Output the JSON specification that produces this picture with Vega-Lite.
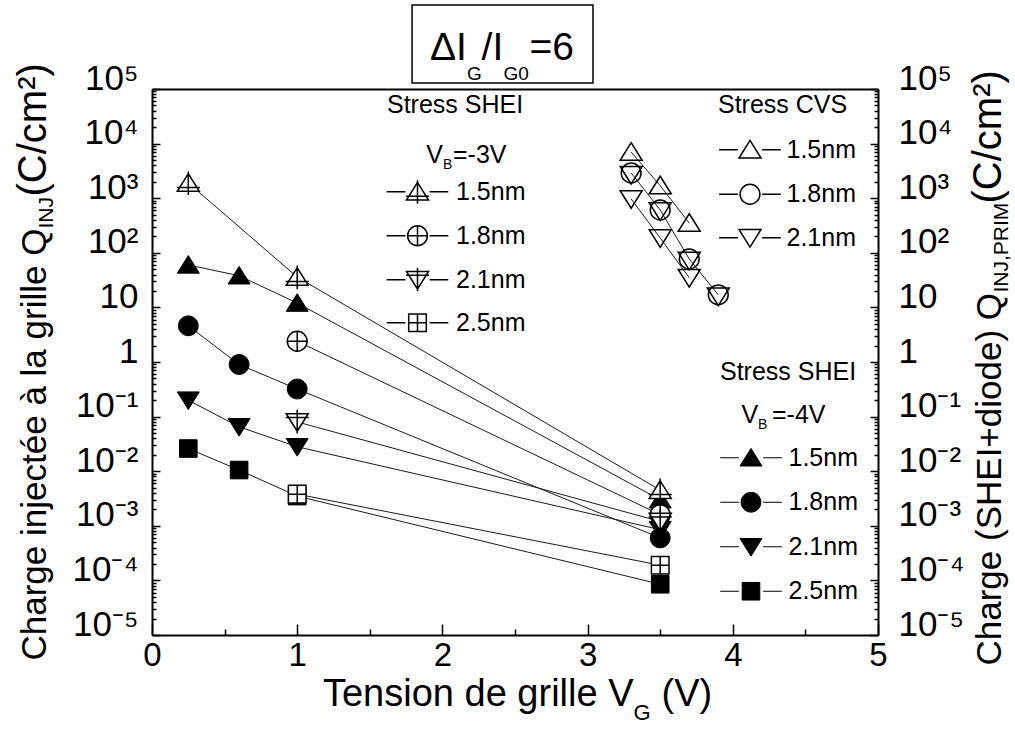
{
  "$schema": "https://vega.github.io/schema/vega-lite/v6.json",
  "width": 726,
  "height": 546,
  "autosize": {"type": "none"},
  "padding": {"left": 152, "top": 89, "right": 137, "bottom": 94},
  "background": "white",
  "config": {
    "view": {"stroke": null},
    "font": "Liberation Sans",
    "axis": {
      "grid": false,
      "domainColor": "black",
      "domainWidth": 2,
      "tickColor": "black",
      "tickWidth": 1.5,
      "labelColor": "black",
      "titleColor": "black",
      "labelFont": "Liberation Sans",
      "titleFont": "Liberation Sans",
      "titleFontWeight": "normal",
      "labelFontSize": 35,
      "titleFontSize": 35,
      "labelFlush": false,
      "labelOverlap": false,
      "labelBound": false,
      "titleLimit": 1000
    }
  },
  "datasets": {
    "pts": [
      {"g": "A", "t": "1.5nm", "x": 0.25, "q": 1900},
      {"g": "A", "t": "1.5nm", "x": 1, "q": 36},
      {"g": "A", "t": "1.5nm", "x": 3.5, "q": 0.0045},
      {"g": "A", "t": "1.8nm", "x": 1, "q": 2.4},
      {"g": "A", "t": "1.8nm", "x": 3.5, "q": 0.0016},
      {"g": "A", "t": "2.1nm", "x": 1, "q": 0.08},
      {"g": "A", "t": "2.1nm", "x": 3.5, "q": 0.0012},
      {"g": "A", "t": "2.5nm", "x": 1, "q": 0.0038},
      {"g": "A", "t": "2.5nm", "x": 3.5, "q": 0.00019},
      {"g": "B", "t": "1.5nm", "x": 0.25, "q": 60},
      {"g": "B", "t": "1.5nm", "x": 0.6, "q": 38},
      {"g": "B", "t": "1.5nm", "x": 1, "q": 12},
      {"g": "B", "t": "1.5nm", "x": 3.5, "q": 0.003},
      {"g": "B", "t": "1.8nm", "x": 0.25, "q": 4.6},
      {"g": "B", "t": "1.8nm", "x": 0.6, "q": 0.9},
      {"g": "B", "t": "1.8nm", "x": 1, "q": 0.32},
      {"g": "B", "t": "1.8nm", "x": 3.5, "q": 0.0006},
      {"g": "B", "t": "2.1nm", "x": 0.25, "q": 0.2},
      {"g": "B", "t": "2.1nm", "x": 0.6, "q": 0.065},
      {"g": "B", "t": "2.1nm", "x": 1, "q": 0.028},
      {"g": "B", "t": "2.1nm", "x": 3.5, "q": 0.00085},
      {"g": "B", "t": "2.5nm", "x": 0.25, "q": 0.026},
      {"g": "B", "t": "2.5nm", "x": 0.6, "q": 0.0105},
      {"g": "B", "t": "2.5nm", "x": 1, "q": 0.0035},
      {"g": "B", "t": "2.5nm", "x": 3.5, "q": 0.000085},
      {"g": "C", "t": "1.5nm", "x": 3.3, "q": 7000},
      {"g": "C", "t": "1.5nm", "x": 3.5, "q": 1700},
      {"g": "C", "t": "1.5nm", "x": 3.7, "q": 350},
      {"g": "C", "t": "1.8nm", "x": 3.3, "q": 2900},
      {"g": "C", "t": "1.8nm", "x": 3.5, "q": 610},
      {"g": "C", "t": "1.8nm", "x": 3.7, "q": 77},
      {"g": "C", "t": "1.8nm", "x": 3.9, "q": 17},
      {"g": "C", "t": "2.1nm", "x": 3.3, "q": 970},
      {"g": "C", "t": "2.1nm", "x": 3.5, "q": 187},
      {"g": "C", "t": "2.1nm", "x": 3.7, "q": 35},
      {"g": "D", "t": "2.1nm", "x": 3.3, "q": 2700},
      {"g": "D", "t": "2.1nm", "x": 3.5, "q": 580},
      {"g": "D", "t": "2.1nm", "x": 3.7, "q": 72},
      {"g": "D", "t": "2.1nm", "x": 3.9, "q": 16}
    ]
  },
  "resolve": {
    "scale": {"shape": "independent"},
    "axis": {"x": "independent", "y": "independent"},
    "legend": {"shape": "independent"}
  },
  "layer": [
    {
      "data": {"name": "pts"},
      "transform": [{"filter": "datum.g != 'D'"}],
      "mark": {"type": "line", "color": "#1a1a1a", "strokeWidth": 1},
      "encoding": {
        "x": {
          "field": "x", "type": "quantitative",
          "scale": {"domain": [0, 5], "nice": false, "zero": false},
          "axis": {
            "orient": "bottom", "values": [0, 1, 2, 3, 4, 5], "tickSize": -11,
            "labelPadding": 15, "labelFontSize": 33, "labelAlign": "center", "labelBaseline": "top",
            "title": "Tension de grille V", "titleFontSize": 38, "titleAngle": 0,
            "titleAlign": "right", "titleBaseline": "alphabetic", "titleX": 481, "titleY": 70
          }
        },
        "y": {
          "field": "q", "type": "quantitative",
          "scale": {"type": "log", "domain": [0.00001, 100000], "nice": false},
          "axis": {
            "orient": "left",
            "values": [0.00001, 0.0001, 0.001, 0.01, 0.1, 1, 10, 100, 1000, 10000, 100000],
            "tickSize": -8, "labelPadding": 22, "labelAlign": "right", "labelBaseline": "alphabetic",
            "labelExpr": "datum.value > 5e4 ? '10⁵' : datum.value > 5e3 ? '10⁴' : datum.value > 500 ? '10³' : datum.value > 50 ? '10²' : datum.value > 5 ? '10' : datum.value > 0.5 ? '1' : datum.value > 0.05 ? '10⁻¹' : datum.value > 0.005 ? '10⁻²' : datum.value > 0.0005 ? '10⁻³' : datum.value > 0.00005 ? '10⁻⁴' : '10⁻⁵'",
            "title": "Charge injectée à la grille Q", "titleAngle": 270, "titleAlign": "left",
            "titleBaseline": "alphabetic", "titleX": -107, "titleY": 571
          }
        },
        "detail": [{"field": "g"}, {"field": "t"}]
      }
    },
    {
      "data": {"name": "pts"},
      "transform": [{"filter": "datum.g == 'B'"}],
      "mark": {"type": "point", "filled": true, "fill": "black", "stroke": "black", "strokeWidth": 1, "size": 484, "opacity": 1},
      "encoding": {
        "x": {
          "field": "x", "type": "quantitative",
          "axis": {
            "orient": "bottom", "values": [0.5, 1.5, 2.5, 3.5, 4.5], "tickSize": -6, "labels": false, "domain": false,
            "title": "G", "titleFontSize": 22, "titleAngle": 0, "titleAlign": "left", "titleBaseline": "alphabetic",
            "titleX": 481, "titleY": 84
          }
        },
        "y": {
          "field": "q", "type": "quantitative",
          "axis": {
            "orient": "left",
            "values": [0.00002, 0.00003, 0.00004, 0.00005, 0.00006, 0.00007, 0.00008, 0.00009,
                       0.0002, 0.0003, 0.0004, 0.0005, 0.0006, 0.0007, 0.0008, 0.0009,
                       0.002, 0.003, 0.004, 0.005, 0.006, 0.007, 0.008, 0.009,
                       0.02, 0.03, 0.04, 0.05, 0.06, 0.07, 0.08, 0.09,
                       0.2, 0.3, 0.4, 0.5, 0.6, 0.7, 0.8, 0.9,
                       2, 3, 4, 5, 6, 7, 8, 9,
                       20, 30, 40, 50, 60, 70, 80, 90,
                       200, 300, 400, 500, 600, 700, 800, 900,
                       2000, 3000, 4000, 5000, 6000, 7000, 8000, 9000,
                       20000, 30000, 40000, 50000, 60000, 70000, 80000, 90000],
            "tickSize": -4, "labels": false, "domain": false,
            "title": "INJ", "titleFontSize": 21, "titleAngle": 270, "titleAlign": "left",
            "titleBaseline": "alphabetic", "titleX": -100, "titleY": 139
          }
        },
        "shape": {
          "field": "t", "type": "nominal",
          "scale": {
            "domain": ["1.5nm", "1.8nm", "2.1nm", "2.5nm"],
            "range": [
              "M0,-0.85L1,0.75L-1,0.75Z",
              "M0.9,0A0.9 0.9 0 1 1 -0.9,0A0.9 0.9 0 1 1 0.9,0Z",
              "M0,0.85L1,-0.75L-1,-0.75Z",
              "M-0.8,-0.8L0.8,-0.8L0.8,0.8L-0.8,0.8Z"
            ]
          },
          "legend": null
        }
      }
    },
    {
      "data": {"name": "pts"},
      "transform": [{"filter": "datum.g == 'A'"}],
      "mark": {"type": "point", "filled": true, "fill": "white", "stroke": "black", "strokeWidth": 1.5, "size": 484, "opacity": 1},
      "encoding": {
        "x": {
          "field": "x", "type": "quantitative",
          "axis": {"orient": "top", "ticks": false, "labels": false, "domain": true, "title": null}
        },
        "y": {
          "field": "q", "type": "quantitative",
          "axis": {
            "orient": "right",
            "values": [0.00001, 0.0001, 0.001, 0.01, 0.1, 1, 10, 100, 1000, 10000, 100000],
            "tickSize": -8, "labelPadding": 28, "labelAlign": "left", "labelBaseline": "alphabetic",
            "labelExpr": "datum.value > 5e4 ? '10⁵' : datum.value > 5e3 ? '10⁴' : datum.value > 500 ? '10³' : datum.value > 50 ? '10²' : datum.value > 5 ? '10' : datum.value > 0.5 ? '1' : datum.value > 0.05 ? '10⁻¹' : datum.value > 0.005 ? '10⁻²' : datum.value > 0.0005 ? '10⁻³' : datum.value > 0.00005 ? '10⁻⁴' : '10⁻⁵'",
            "title": "Charge (SHEI+diode) Q", "titleAngle": 270, "titleAlign": "left",
            "titleBaseline": "alphabetic", "titleX": 122, "titleY": 576
          }
        },
        "shape": {
          "field": "t", "type": "nominal",
          "scale": {
            "domain": ["1.5nm", "1.8nm", "2.1nm", "2.5nm"],
            "range": [
              "M0,-0.85L1,0.75L-1,0.75Z M0,-1.05L0,1.1 M-1.05,0.4L1.05,0.4",
              "M0.9,0A0.9 0.9 0 1 1 -0.9,0A0.9 0.9 0 1 1 0.9,0Z M-0.9,0L0.9,0 M0,-0.9L0,0.9",
              "M0,0.85L1,-0.75L-1,-0.75Z M0,-1.1L0,1.05 M-1.05,-0.4L1.05,-0.4",
              "M-0.8,-0.8L0.8,-0.8L0.8,0.8L-0.8,0.8Z M-0.8,0L0.8,0 M0,-0.8L0,0.8"
            ]
          },
          "legend": null
        }
      }
    },
    {
      "data": {"name": "pts"},
      "transform": [{"filter": "datum.g == 'C'"}],
      "mark": {"type": "point", "filled": false, "color": "black", "strokeWidth": 1.5, "size": 484, "opacity": 1},
      "encoding": {
        "x": {
          "field": "x", "type": "quantitative",
          "axis": {
            "orient": "bottom", "ticks": false, "labels": false, "domain": false,
            "title": "(V)", "titleFontSize": 38, "titleAngle": 0, "titleAlign": "left", "titleBaseline": "alphabetic",
            "titleX": 509, "titleY": 70
          }
        },
        "y": {
          "field": "q", "type": "quantitative",
          "axis": {
            "orient": "right",
            "values": [0.00002, 0.00003, 0.00004, 0.00005, 0.00006, 0.00007, 0.00008, 0.00009,
                       0.0002, 0.0003, 0.0004, 0.0005, 0.0006, 0.0007, 0.0008, 0.0009,
                       0.002, 0.003, 0.004, 0.005, 0.006, 0.007, 0.008, 0.009,
                       0.02, 0.03, 0.04, 0.05, 0.06, 0.07, 0.08, 0.09,
                       0.2, 0.3, 0.4, 0.5, 0.6, 0.7, 0.8, 0.9,
                       2, 3, 4, 5, 6, 7, 8, 9,
                       20, 30, 40, 50, 60, 70, 80, 90,
                       200, 300, 400, 500, 600, 700, 800, 900,
                       2000, 3000, 4000, 5000, 6000, 7000, 8000, 9000,
                       20000, 30000, 40000, 50000, 60000, 70000, 80000, 90000],
            "tickSize": -4, "labels": false, "domain": false,
            "title": "INJ,PRIM", "titleFontSize": 21, "titleAngle": 270, "titleAlign": "left",
            "titleBaseline": "alphabetic", "titleX": 129, "titleY": 203
          }
        },
        "shape": {
          "field": "t", "type": "nominal",
          "scale": {
            "domain": ["1.5nm", "1.8nm", "2.1nm"],
            "range": [
              "M0,-0.85L1,0.75L-1,0.75Z",
              "M0.9,0A0.9 0.9 0 1 1 -0.9,0A0.9 0.9 0 1 1 0.9,0Z",
              "M0,0.85L1,-0.75L-1,-0.75Z"
            ]
          },
          "legend": null
        }
      }
    },
    {
      "data": {"name": "pts"},
      "transform": [{"filter": "datum.g == 'D'"}],
      "mark": {"type": "point", "filled": false, "color": "black", "strokeWidth": 1.5, "size": 484, "opacity": 1, "shape": "M0,0.85L1,-0.75L-1,-0.75Z"},
      "encoding": {
        "x": {"field": "x", "type": "quantitative", "axis": null},
        "y": {
          "field": "q", "type": "quantitative",
          "axis": {
            "orient": "left", "ticks": false, "labels": false, "domain": false,
            "title": "(C/cm²)", "titleFontSize": 40, "titleAngle": 270, "titleAlign": "left",
            "titleBaseline": "alphabetic", "titleX": -107, "titleY": 107
          }
        }
      }
    },
    {
      "data": {"name": "pts"},
      "transform": [{"filter": "false"}],
      "mark": {"type": "point", "filled": false, "color": "black", "fill": "white", "strokeWidth": 1.5, "size": 484, "opacity": 1},
      "encoding": {
        "x": {"field": "x", "type": "quantitative", "axis": null},
        "y": {
          "field": "q", "type": "quantitative",
          "axis": {
            "orient": "right", "ticks": false, "labels": false, "domain": false,
            "title": "(C/cm²)", "titleFontSize": 40, "titleAngle": 270, "titleAlign": "left",
            "titleBaseline": "alphabetic", "titleX": 122, "titleY": 114
          }
        },
        "shape": {
          "field": "t", "type": "nominal",
          "scale": {
            "domain": ["1.5nm", "1.8nm", "2.1nm", "2.5nm"],
            "range": [
              "M0,-0.85L1,0.75L-1,0.75Z M0,-1.05L0,1.1 M-1.05,0.4L1.05,0.4 M-2.8,0L-1.1,0 M1.1,0L2.8,0",
              "M0.9,0A0.9 0.9 0 1 1 -0.9,0A0.9 0.9 0 1 1 0.9,0Z M-0.9,0L0.9,0 M0,-0.9L0,0.9 M-2.8,0L-1.1,0 M1.1,0L2.8,0",
              "M0,0.85L1,-0.75L-1,-0.75Z M0,-1.1L0,1.05 M-1.05,-0.4L1.05,-0.4 M-2.8,0L-1.1,0 M1.1,0L2.8,0",
              "M-0.8,-0.8L0.8,-0.8L0.8,0.8L-0.8,0.8Z M-0.8,0L0.8,0 M0,-0.8L0,0.8 M-2.8,0L-1.1,0 M1.1,0L2.8,0"
            ]
          },
          "legend": {
            "orient": "none", "legendX": 235, "legendY": 4.25, "padding": 0,
            "title": "Stress SHEI", "titleFontSize": 25, "titleFont": "Liberation Sans", "titleFontWeight": "normal",
            "titleColor": "black", "titleAnchor": "start", "titleAlign": "left", "titlePadding": 61,
            "labelFontSize": 25, "labelFont": "Liberation Sans", "labelColor": "black",
            "symbolSize": 484, "symbolStrokeWidth": 1.5, "symbolOffset": 18, "labelOffset": 26, "rowPadding": 15,
            "symbolOpacity": 1
          }
        }
      }
    },
    {
      "data": {"name": "pts"},
      "transform": [{"filter": "false"}],
      "mark": {"type": "point", "filled": false, "color": "black", "fill": "black", "strokeWidth": 1, "size": 484, "opacity": 1},
      "encoding": {
        "x": {"field": "x", "type": "quantitative", "axis": null},
        "y": {"field": "q", "type": "quantitative", "axis": null},
        "shape": {
          "field": "t", "type": "nominal",
          "scale": {
            "domain": ["1.5nm", "1.8nm", "2.1nm", "2.5nm"],
            "range": [
              "M0,-0.85L1,0.75L-1,0.75Z M-2.8,0L-1.1,0 M1.1,0L2.8,0",
              "M0.9,0A0.9 0.9 0 1 1 -0.9,0A0.9 0.9 0 1 1 0.9,0Z M-2.8,0L-1.1,0 M1.1,0L2.8,0",
              "M0,0.85L1,-0.75L-1,-0.75Z M-2.8,0L-1.1,0 M1.1,0L2.8,0",
              "M-0.8,-0.8L0.8,-0.8L0.8,0.8L-0.8,0.8Z M-2.8,0L-1.1,0 M1.1,0L2.8,0"
            ]
          },
          "legend": {
            "orient": "none", "legendX": 568, "legendY": 271.25, "padding": 0,
            "title": "Stress SHEI", "titleFontSize": 25, "titleFont": "Liberation Sans", "titleFontWeight": "normal",
            "titleColor": "black", "titleAnchor": "start", "titleAlign": "left", "titlePadding": 60,
            "labelFontSize": 25, "labelFont": "Liberation Sans", "labelColor": "black",
            "symbolSize": 484, "symbolStrokeWidth": 1, "symbolOffset": 18.5, "labelOffset": 25, "rowPadding": 18.5,
            "symbolOpacity": 1
          }
        }
      }
    },
    {
      "data": {"name": "pts"},
      "transform": [{"filter": "false"}],
      "mark": {"type": "point", "filled": false, "color": "black", "strokeWidth": 1.5, "size": 484, "opacity": 1},
      "encoding": {
        "x": {"field": "x", "type": "quantitative", "axis": null},
        "y": {"field": "q", "type": "quantitative", "axis": null},
        "shape": {
          "field": "t", "type": "nominal",
          "scale": {
            "domain": ["1.5nm", "1.8nm", "2.1nm"],
            "range": [
              "M0,-0.85L1,0.75L-1,0.75Z M-2.8,0L-1.1,0 M1.1,0L2.8,0",
              "M0.9,0A0.9 0.9 0 1 1 -0.9,0A0.9 0.9 0 1 1 0.9,0Z M-2.8,0L-1.1,0 M1.1,0L2.8,0",
              "M0,0.85L1,-0.75L-1,-0.75Z M-2.8,0L-1.1,0 M1.1,0L2.8,0"
            ]
          },
          "legend": {
            "orient": "none", "legendX": 566, "legendY": 4.25, "padding": 0,
            "title": "Stress CVS", "titleFontSize": 25, "titleFont": "Liberation Sans", "titleFontWeight": "normal",
            "titleColor": "black", "titleAnchor": "start", "titleAlign": "left", "titlePadding": 19,
            "labelFontSize": 25, "labelFont": "Liberation Sans", "labelColor": "black",
            "symbolSize": 484, "symbolStrokeWidth": 1.5, "symbolOffset": 19.5, "labelOffset": 24, "rowPadding": 17.5,
            "symbolOpacity": 1
          }
        }
      }
    },
    {
      "data": {"values": [{}]},
      "mark": {"type": "rect", "fill": "white", "stroke": "black", "strokeWidth": 1.5, "clip": false},
      "encoding": {
        "x": {"datum": 1.791, "type": "quantitative", "axis": null},
        "x2": {"datum": 3.037},
        "y": {"datum": 3450000, "type": "quantitative", "axis": null},
        "y2": {"datum": 128900}
      }
    },
    {
      "data": {"values": [{}]},
      "mark": {"type": "text", "text": "ΔI", "align": "right", "baseline": "alphabetic", "fontSize": 39, "font": "Liberation Sans", "color": "black", "clip": false},
      "encoding": {
        "x": {"datum": 2.169, "type": "quantitative", "axis": null},
        "y": {"datum": 339600, "type": "quantitative", "axis": null}
      }
    },
    {
      "data": {"values": [{}]},
      "mark": {"type": "text", "text": "G", "align": "left", "baseline": "alphabetic", "fontSize": 19, "font": "Liberation Sans", "color": "black", "clip": false},
      "encoding": {
        "x": {"datum": 2.169, "type": "quantitative", "axis": null},
        "y": {"datum": 146200, "type": "quantitative", "axis": null}
      }
    },
    {
      "data": {"values": [{}]},
      "mark": {"type": "text", "text": "/I", "align": "left", "baseline": "alphabetic", "fontSize": 39, "font": "Liberation Sans", "color": "black", "clip": false},
      "encoding": {
        "x": {"datum": 2.27, "type": "quantitative", "axis": null},
        "y": {"datum": 339600, "type": "quantitative", "axis": null}
      }
    },
    {
      "data": {"values": [{}]},
      "mark": {"type": "text", "text": "G0", "align": "left", "baseline": "alphabetic", "fontSize": 19, "font": "Liberation Sans", "color": "black", "clip": false},
      "encoding": {
        "x": {"datum": 2.42, "type": "quantitative", "axis": null},
        "y": {"datum": 146200, "type": "quantitative", "axis": null}
      }
    },
    {
      "data": {"values": [{}]},
      "mark": {"type": "text", "text": "=6", "align": "left", "baseline": "alphabetic", "fontSize": 39, "font": "Liberation Sans", "color": "black", "clip": false},
      "encoding": {
        "x": {"datum": 2.6, "type": "quantitative", "axis": null},
        "y": {"datum": 339600, "type": "quantitative", "axis": null}
      }
    },
    {
      "data": {"values": [{}]},
      "mark": {"type": "text", "text": "V", "align": "right", "baseline": "alphabetic", "fontSize": 25, "font": "Liberation Sans", "color": "black", "clip": false},
      "encoding": {
        "x": {"datum": 2.004, "type": "quantitative", "axis": null},
        "y": {"datum": 4416, "type": "quantitative", "axis": null}
      }
    },
    {
      "data": {"values": [{}]},
      "mark": {"type": "text", "text": "B", "align": "left", "baseline": "alphabetic", "fontSize": 14, "font": "Liberation Sans", "color": "black", "clip": false},
      "encoding": {
        "x": {"datum": 2.004, "type": "quantitative", "axis": null},
        "y": {"datum": 3428, "type": "quantitative", "axis": null}
      }
    },
    {
      "data": {"values": [{}]},
      "mark": {"type": "text", "text": "=-3V", "align": "left", "baseline": "alphabetic", "fontSize": 25, "font": "Liberation Sans", "color": "black", "clip": false},
      "encoding": {
        "x": {"datum": 2.073, "type": "quantitative", "axis": null},
        "y": {"datum": 4416, "type": "quantitative", "axis": null}
      }
    },
    {
      "data": {"values": [{}]},
      "mark": {"type": "text", "text": "V", "align": "right", "baseline": "alphabetic", "fontSize": 25, "font": "Liberation Sans", "color": "black", "clip": false},
      "encoding": {
        "x": {"datum": 4.174, "type": "quantitative", "axis": null},
        "y": {"datum": 0.0764, "type": "quantitative", "axis": null}
      }
    },
    {
      "data": {"values": [{}]},
      "mark": {"type": "text", "text": "B", "align": "left", "baseline": "alphabetic", "fontSize": 14, "font": "Liberation Sans", "color": "black", "clip": false},
      "encoding": {
        "x": {"datum": 4.174, "type": "quantitative", "axis": null},
        "y": {"datum": 0.0593, "type": "quantitative", "axis": null}
      }
    },
    {
      "data": {"values": [{}]},
      "mark": {"type": "text", "text": "=-4V", "align": "left", "baseline": "alphabetic", "fontSize": 25, "font": "Liberation Sans", "color": "black", "clip": false},
      "encoding": {
        "x": {"datum": 4.27, "type": "quantitative", "axis": null},
        "y": {"datum": 0.0764, "type": "quantitative", "axis": null}
      }
    }
  ]
}
